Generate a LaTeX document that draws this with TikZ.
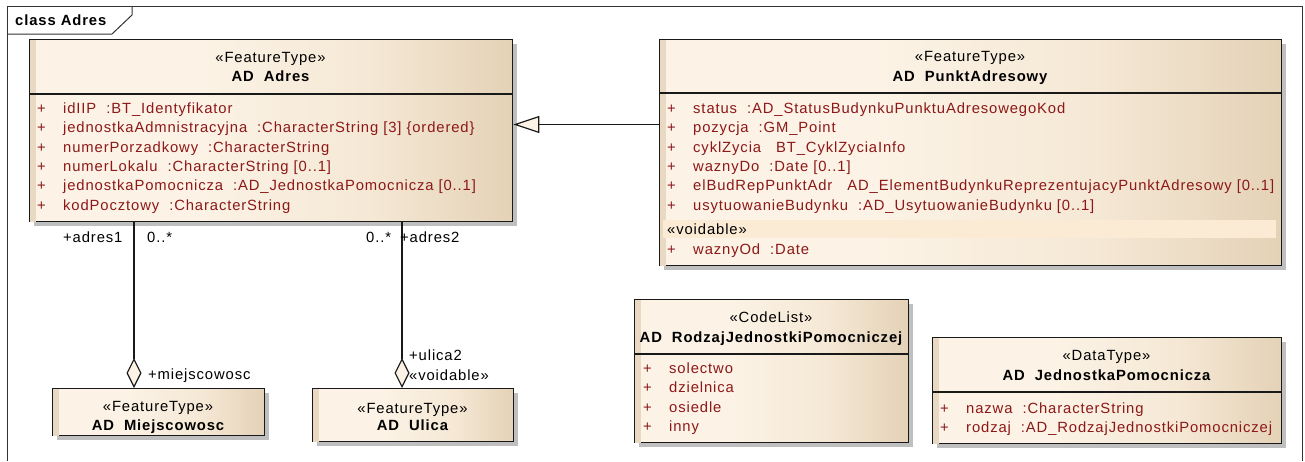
\documentclass[tikz,border=0pt]{standalone}
\usepackage{fontspec}
\setmainfont{Liberation Sans}[LetterSpace=6]
\usetikzlibrary{arrows.meta,shadows}
\definecolor{eaL}{RGB}{252,243,230}
\definecolor{eaM}{RGB}{245,232,213}
\definecolor{eaR}{RGB}{228,210,183}
\definecolor{eaS}{RGB}{234,217,194}
\definecolor{attrc}{RGB}{140,24,24}
\definecolor{voidband}{RGB}{251,235,212}
\pgfdeclarehorizontalshading{eashade}{100bp}{color(0bp)=(eaL); color(25bp)=(eaL); color(42bp)=(eaL); color(60bp)=(eaM); color(75bp)=(eaR); color(100bp)=(eaR)}
\newcommand\fs{\fontsize{14.8}{17}\selectfont}
\tikzset{
  umlbox/.style={draw=black!90, line width=1.4pt, shading=eashade, inner sep=0pt, anchor=north west,
    general shadow={fill=black!25, shadow xshift=4pt, shadow yshift=-4pt}},
  sepline/.style={draw=black!90, line width=1.3pt},
  plusst/.style={anchor=base west, inner sep=0pt, text=attrc, font=\fs},
  attrst/.style={anchor=base west, inner sep=0pt, text=attrc, font=\fs},
  stereost/.style={anchor=base, inner sep=0pt, font=\fs},
  namest/.style={anchor=base, inner sep=0pt, font=\fs\bfseries},
  lblst/.style={anchor=base west, inner sep=0pt, font=\fs},
  framest/.style={draw=black!80, line width=1pt},
  gen/.style={draw=black!90, line width=1.2pt, -{Triangle[length=26pt, width=17pt, fill=eaL]}},
  aggr/.style={draw=black!90, line width=1.2pt, -{Diamond[length=30pt, width=15pt, fill=eaL]}},
}
% name, x, y, width, height
\newcommand\mkbox[5]{%
  \node[umlbox, minimum width=#4pt, minimum height=#5pt] (#1) at (#2,#3) {};
  \fill[eaS] ([xshift=0.7pt,yshift=-0.7pt]#1.north west) rectangle ([xshift=7pt,yshift=0.7pt]#1.south west);
}
\newcommand\mksep[2]{\draw[sepline] (#1.west |- 0,#2) -- (#1.east |- 0,#2);}
% id, box left, baseline, text
\newcommand\attrrow[4]{%
  \node[plusst] (#1p) at (#2+8,#3) {+};
  \node[attrst] (#1) at (#2+34,#3) {#4};}
\begin{document}
\begin{tikzpicture}[x=1pt,y=-1pt]
\useasboundingbox (0,0) rectangle (1305,461);
\fill[white] (0,0) rectangle (1305,461);
% frame
\draw[framest] (7,461) -- (7,6) -- (1302,6) -- (1302,461);
\draw[framest] (7,34) -- (112,34) -- (132,15) -- (132,6);
\node[anchor=base west, inner sep=0pt, font=\fs\bfseries] (title) at (15,25) {class Adres};

% AD Adres
\mkbox{adres}{29}{39}{483}{182}
\mksep{adres}{94}
\node[stereost] (adresS) at (270.5,62) {«FeatureType»};
\node[namest] (adresN) at (270.5,81.5) {AD\ \ Adres};
\attrrow{a1}{29}{113.3}{idIIP\ \ :BT\_Identyfikator}
\attrrow{a2}{29}{132.6}{jednostkaAdmnistracyjna\ \ :CharacterString [3] \{ordered\}}
\attrrow{a3}{29}{152}{numerPorzadkowy\ \ :CharacterString}
\attrrow{a4}{29}{171.3}{numerLokalu\ \ :CharacterString [0..1]}
\attrrow{a5}{29}{190.6}{jednostkaPomocnicza\ \ :AD\_JednostkaPomocnicza [0..1]}
\attrrow{a6}{29}{210}{kodPocztowy\ \ :CharacterString}

% AD PunktAdresowy
\mkbox{punkt}{659}{39}{622}{226}
\mksep{punkt}{93}
\node[stereost] (punktS) at (970,61.5) {«FeatureType»};
\node[namest] (punktN) at (970,81) {AD\ \ PunktAdresowy};
\attrrow{p1}{659}{113.3}{status\ \ :AD\_StatusBudynkuPunktuAdresowegoKod}
\attrrow{p2}{659}{132.6}{pozycja\ \ :GM\_Point}
\attrrow{p3}{659}{152}{cyklZycia\ \ \ BT\_CyklZyciaInfo}
\attrrow{p4}{659}{171.3}{waznyDo\ \ :Date [0..1]}
\attrrow{p5}{659}{190.6}{elBudRepPunktAdr\ \ \ AD\_ElementBudynkuReprezentujacyPunktAdresowy [0..1]}
\attrrow{p6}{659}{210}{usytuowanieBudynku\ \ :AD\_UsytuowanieBudynku [0..1]}
\fill[voidband] (663,219.5) rectangle (1276,238);
\node[lblst] (punktV) at (667,234) {«voidable»};
\attrrow{p7}{659}{254}{waznyOd\ \ :Date}

% AD RodzajJednostkiPomocniczej
\mkbox{rodzaj}{634}{299}{274}{143}
\mksep{rodzaj}{354}
\node[stereost] (rodzajS) at (771,322) {«CodeList»};
\node[namest] (rodzajN) at (771,342.5) {AD\ \ RodzajJednostkiPomocniczej};
\attrrow{r1}{635}{373.3}{solectwo}
\attrrow{r2}{635}{392.8}{dzielnica}
\attrrow{r3}{635}{412.3}{osiedle}
\attrrow{r4}{635}{431.8}{inny}

% AD JednostkaPomocnicza
\mkbox{jedn}{932}{337}{349}{106}
\mksep{jedn}{392}
\node[stereost] (jednS) at (1106.5,360) {«DataType»};
\node[namest] (jednN) at (1106.5,380.5) {AD\ \ JednostkaPomocnicza};
\attrrow{j1}{932}{413}{nazwa\ \ :CharacterString}
\attrrow{j2}{932}{432}{rodzaj\ \ :AD\_RodzajJednostkiPomocniczej}

% AD Miejscowosc
\mkbox{miej}{52}{388}{212}{47}
\node[stereost] (miejS) at (158,411) {«FeatureType»};
\node[namest] (miejN) at (158,430) {AD\ \ Miejscowosc};

% AD Ulica
\mkbox{ulica}{312}{388}{201}{53}
\node[stereost] (ulicaS) at (412.5,413) {«FeatureType»};
\node[namest] (ulicaN) at (412.5,430) {AD\ \ Ulica};

% connectors
\coordinate (g) at (0,124.5);
\coordinate (c1) at (134,0);
\coordinate (c2) at (402,0);
\draw[gen] (g -| punkt.west) -- (g -| adres.east);
\draw[aggr] (c1 |- adres.south) -- (c1 |- miej.north);
\draw[aggr] (c2 |- adres.south) -- (c2 |- ulica.north);

% connector labels
\node[lblst] (l1) at (63,242) {+adres1};
\node[lblst] (l2) at (147,242) {0..*};
\node[lblst] (l3) at (366,242) {0..*};
\node[lblst] (l4) at (400,242) {+adres2};
\node[lblst] (l5) at (148,379) {+miejscowosc};
\node[lblst] (l6) at (409,360) {+ulica2};
\node[lblst] (l7) at (409,380) {«voidable»};
\end{tikzpicture}
\end{document}
